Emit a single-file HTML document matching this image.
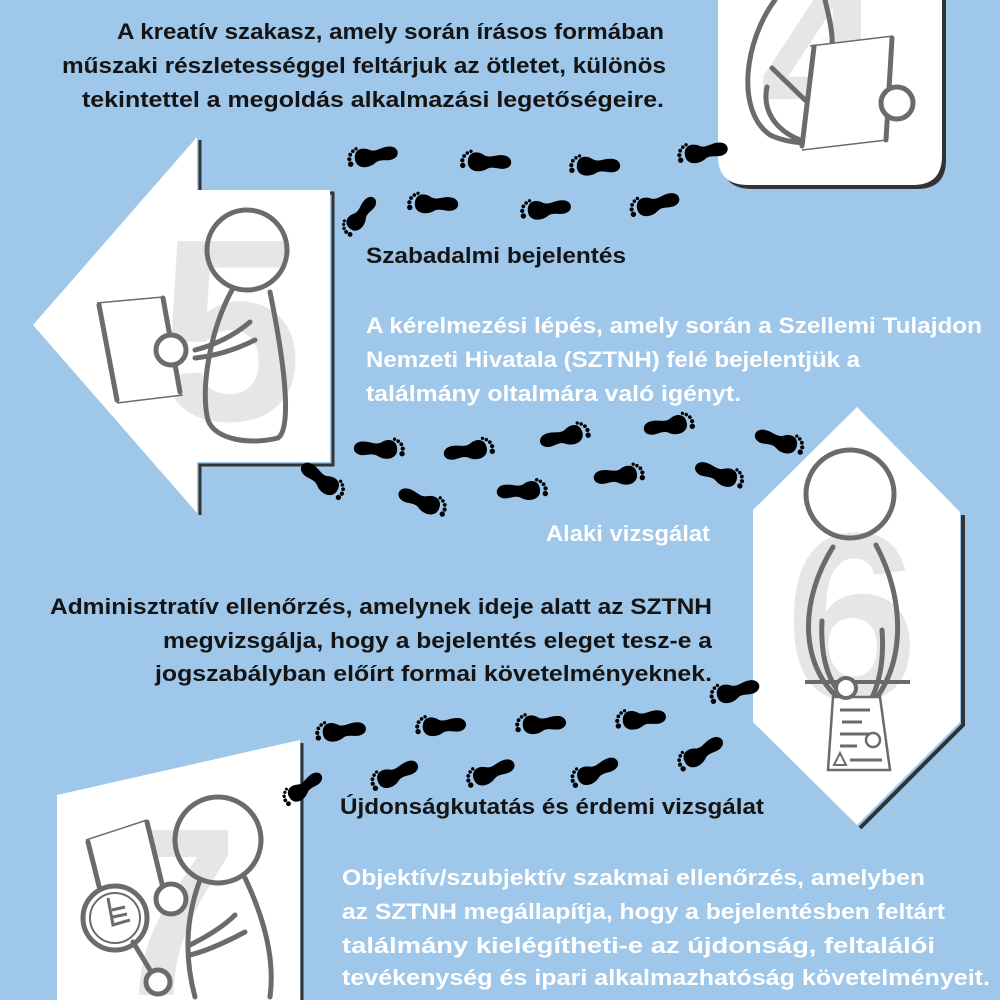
<!DOCTYPE html>
<html><head><meta charset="utf-8"><style>
html,body{margin:0;padding:0;background:#9ec7ea;width:1000px;height:1000px;overflow:hidden;}
svg{display:block}
text{font-family:"Liberation Sans","DejaVu Sans",sans-serif;font-weight:bold;font-size:22px}
.d{fill:#141414}.w{fill:#ffffff}
.s{fill:none;stroke:#6b6b6b;stroke-width:5;stroke-linecap:round}
.big{font-size:260px;fill:#e6e6e6;font-weight:bold}
</style></head><body>
<svg width="1000" height="1000" viewBox="0 0 1000 1000" xmlns="http://www.w3.org/2000/svg">
<defs>
<g id="f" transform="translate(-28,-12) scale(1.12)">
<path d="M7,12 C6,3 14,1 20,4 C26,7 30,2 38,2 C46,2 48,10 42,13 C37,16 30,12 25,16 C19,21 8,21 7,12Z" fill="#000"/>
<circle cx="3" cy="16" r="2.4" fill="#000"/>
<circle cx="2" cy="11.5" r="1.9" fill="#000"/>
<circle cx="3" cy="7.5" r="1.7" fill="#000"/>
<circle cx="5.5" cy="4.5" r="1.6" fill="#000"/>
<circle cx="8.5" cy="2.5" r="1.5" fill="#000"/>
</g>
</defs>
<rect width="1000" height="1000" fill="#9ec7ea"/>

<!-- Panel 4 -->
<path d="M722,0 H946 V160 Q946,189 917,189 H752 Q722,189 722,160 Z" fill="#333"/>
<path d="M718,0 H942 V156 Q942,185 913,185 H748 Q718,185 718,156 Z" fill="#fff"/>
<text x="760" y="130" class="big" style="font-size:220px">4</text>
<path class="s" d="M775,0 C745,40 735,110 770,135 C785,142 800,143 810,143"/>
<path class="s" d="M825,0 C830,20 833,35 832,45"/>
<path class="s" d="M767,87 C762,110 775,130 800,140"/>
<path class="s" d="M772,68 L805,100"/>
<path d="M810,46 L893,36 L887,140 L802,150 Z" fill="#fff"/>
<path class="s" d="M814,47 L802,146 M892,38 L886,140"/>
<path d="M810,46 L893,36 M802,150 L887,140" stroke="#6b6b6b" stroke-width="1.5"/>
<circle cx="897" cy="103" r="16" fill="#fff" stroke="#6b6b6b" stroke-width="5"/>

<!-- Panel 5 arrow -->
<path d="M200,140 V193 H333 V465 H200 V515" fill="none" stroke="#333" stroke-width="3"/>
<path d="M33,325 L197,137 V190 H330 V462 H197 V513 Z" fill="#fff"/>
<text x="158" y="420" class="big">5</text>
<circle cx="247" cy="250" r="40" fill="none" stroke="#6b6b6b" stroke-width="5"/>
<path class="s" d="M232,290 C210,330 200,390 208,420 C215,440 250,445 278,438 C290,430 288,380 270,292"/>
<path class="s" d="M195,350 C215,345 235,335 250,322 M195,358 C215,356 235,350 255,340"/>
<path d="M97,303 L163,297 L183,395 L117,403 Z" fill="#fff"/>
<path class="s" d="M99,305 L117,400 M163,298 L180,392"/>
<path d="M97,303 L163,297 M117,403 L183,395" stroke="#6b6b6b" stroke-width="1.5"/>
<circle cx="171" cy="350" r="15" fill="#fff" stroke="#6b6b6b" stroke-width="5"/>

<!-- Panel 6 hexagon -->
<path d="M963,515 V725 L860,828" fill="none" stroke="#333" stroke-width="4"/>
<path d="M857,407 L960,512 V722 L857,825 L753,722 V510 Z" fill="#fff"/>
<text x="785" y="700" class="big" style="font-size:240px">6</text>
<circle cx="850" cy="494" r="44" fill="none" stroke="#6b6b6b" stroke-width="5"/>
<path class="s" d="M833,547 C800,600 800,660 835,695"/>
<path class="s" d="M876,545 C905,600 905,660 875,700"/>
<path class="s" d="M822,621 C820,660 830,690 850,700 M882,630 C885,670 875,700 862,710"/>
<path d="M805,682 H910" stroke="#6b6b6b" stroke-width="4"/>
<path d="M833,697 L880,697 L890,770 L828,770 Z" fill="#fff" stroke="#6b6b6b" stroke-width="2.5"/>
<path d="M840,710 H870 M842,722 H862 M840,734 H870 M840,746 H857 M850,760 H882" stroke="#6b6b6b" stroke-width="3"/>
<circle cx="873" cy="740" r="7" fill="none" stroke="#6b6b6b" stroke-width="2.5"/>
<path d="M834,765 L840,753 L846,765 Z" fill="none" stroke="#6b6b6b" stroke-width="2"/>
<circle cx="846" cy="688" r="10" fill="#fff" stroke="#6b6b6b" stroke-width="4"/>

<!-- Panel 7 -->
<path d="M302,743 V1000" stroke="#333" stroke-width="3"/>
<path d="M57,795 L300,740 V1000 H57 Z" fill="#fff"/>
<text x="105" y="995" class="big" style="font-size:240px">7</text>
<circle cx="218" cy="840" r="43" fill="none" stroke="#6b6b6b" stroke-width="5"/>
<path class="s" d="M200,880 C185,920 185,960 195,997 M245,878 C265,920 275,960 270,997"/>
<path class="s" d="M190,945 C210,935 225,925 235,915 M190,955 C210,950 230,940 245,932"/>
<path d="M86,840 L147,820 L168,905 L110,925 Z" fill="#fff"/>
<path class="s" d="M88,842 L108,922 M147,822 L164,892"/>
<path d="M86,840 L147,820" stroke="#6b6b6b" stroke-width="1.5"/>
<circle cx="171" cy="899" r="15" fill="#fff" stroke="#6b6b6b" stroke-width="5"/>
<circle cx="115" cy="918" r="32" fill="#fff" stroke="#6b6b6b" stroke-width="5"/>
<circle cx="115" cy="918" r="25" fill="none" stroke="#6b6b6b" stroke-width="2"/>
<path d="M108,898 L113,925 L130,920 M112,910 L125,907 M113,917 L127,914" stroke="#6b6b6b" stroke-width="3" fill="none"/>
<path class="s" d="M133,942 L150,970"/>
<circle cx="158" cy="982" r="12" fill="#fff" stroke="#6b6b6b" stroke-width="5"/>

<!-- footprints top -->
<use href="#f" transform="translate(375,157) rotate(-3)"/>
<use href="#f" transform="translate(488,163) rotate(8)"/>
<use href="#f" transform="translate(597,167) rotate(6)"/>
<use href="#f" transform="translate(705,153) rotate(-3)"/>
<use href="#f" transform="translate(362,215) rotate(-45) scale(0.9)"/>
<use href="#f" transform="translate(435,205) rotate(8)"/>
<use href="#f" transform="translate(548,210) rotate(0)"/>
<use href="#f" transform="translate(657,205) rotate(-8)"/>

<!-- footprints middle (walking right) -->
<use href="#f" transform="translate(377,450) rotate(-5) scale(-1,1)"/>
<use href="#f" transform="translate(467,452) rotate(-15) scale(-1,1)"/>
<use href="#f" transform="translate(563,438) rotate(-20) scale(-1,1)"/>
<use href="#f" transform="translate(667,427) rotate(-15) scale(-1,1)"/>
<use href="#f" transform="translate(777,442) rotate(10) scale(-1,1)"/>
<use href="#f" transform="translate(320,480) rotate(30) scale(-1,1)"/>
<use href="#f" transform="translate(420,502) rotate(15) scale(-1,1)"/>
<use href="#f" transform="translate(520,492) rotate(-10) scale(-1,1)"/>
<use href="#f" transform="translate(617,477) rotate(-12) scale(-1,1)"/>
<use href="#f" transform="translate(717,475) rotate(12) scale(-1,1)"/>

<!-- footprints bottom -->
<use href="#f" transform="translate(343,732) rotate(0)"/>
<use href="#f" transform="translate(443,727) rotate(3)"/>
<use href="#f" transform="translate(543,725) rotate(3)"/>
<use href="#f" transform="translate(643,720) rotate(0)"/>
<use href="#f" transform="translate(737,692) rotate(-8)"/>
<use href="#f" transform="translate(397,775) rotate(-18)"/>
<use href="#f" transform="translate(493,773) rotate(-15)"/>
<use href="#f" transform="translate(597,772) rotate(-18)"/>
<use href="#f" transform="translate(703,753) rotate(-25)"/>
<use href="#f" transform="translate(305,788) rotate(-30) scale(0.9)"/>

<!-- Texts -->
<text class="d" x="117" y="39" textLength="547" lengthAdjust="spacingAndGlyphs">A kreatív szakasz, amely során írásos formában</text>
<text class="d" x="62" y="73" textLength="604" lengthAdjust="spacingAndGlyphs">műszaki részletességgel feltárjuk az ötletet, különös</text>
<text class="d" x="82" y="107" textLength="582" lengthAdjust="spacingAndGlyphs">tekintettel a megoldás alkalmazási legetőségeire.</text>

<text class="d" x="366" y="263" textLength="260" lengthAdjust="spacingAndGlyphs">Szabadalmi bejelentés</text>
<text class="w" x="366" y="333" textLength="616" lengthAdjust="spacingAndGlyphs">A kérelmezési lépés, amely során a Szellemi Tulajdon</text>
<text class="w" x="366" y="367" textLength="494" lengthAdjust="spacingAndGlyphs">Nemzeti Hivatala (SZTNH) felé bejelentjük a</text>
<text class="w" x="366" y="401" textLength="375" lengthAdjust="spacingAndGlyphs">találmány oltalmára való igényt.</text>

<text class="w" x="546" y="541" textLength="164" lengthAdjust="spacingAndGlyphs">Alaki vizsgálat</text>
<text class="d" x="50" y="614" textLength="662" lengthAdjust="spacingAndGlyphs">Adminisztratív ellenőrzés, amelynek ideje alatt az SZTNH</text>
<text class="d" x="163" y="648" textLength="549" lengthAdjust="spacingAndGlyphs">megvizsgálja, hogy a bejelentés eleget tesz-e a</text>
<text class="d" x="155" y="681" textLength="557" lengthAdjust="spacingAndGlyphs">jogszabályban előírt formai követelményeknek.</text>

<text class="d" x="340" y="814" textLength="424" lengthAdjust="spacingAndGlyphs">Újdonságkutatás és érdemi vizsgálat</text>
<text class="w" x="342" y="885" textLength="583" lengthAdjust="spacingAndGlyphs">Objektív/szubjektív szakmai ellenőrzés, amelyben</text>
<text class="w" x="342" y="919" textLength="603" lengthAdjust="spacingAndGlyphs">az SZTNH megállapítja, hogy a bejelentésben feltárt</text>
<text class="w" x="342" y="953" textLength="593" lengthAdjust="spacingAndGlyphs">találmány kielégítheti-e az újdonság, feltalálói</text>
<text class="w" x="342" y="985" textLength="648" lengthAdjust="spacingAndGlyphs">tevékenység és ipari alkalmazhatóság követelményeit.</text>
</svg>
</body></html>
